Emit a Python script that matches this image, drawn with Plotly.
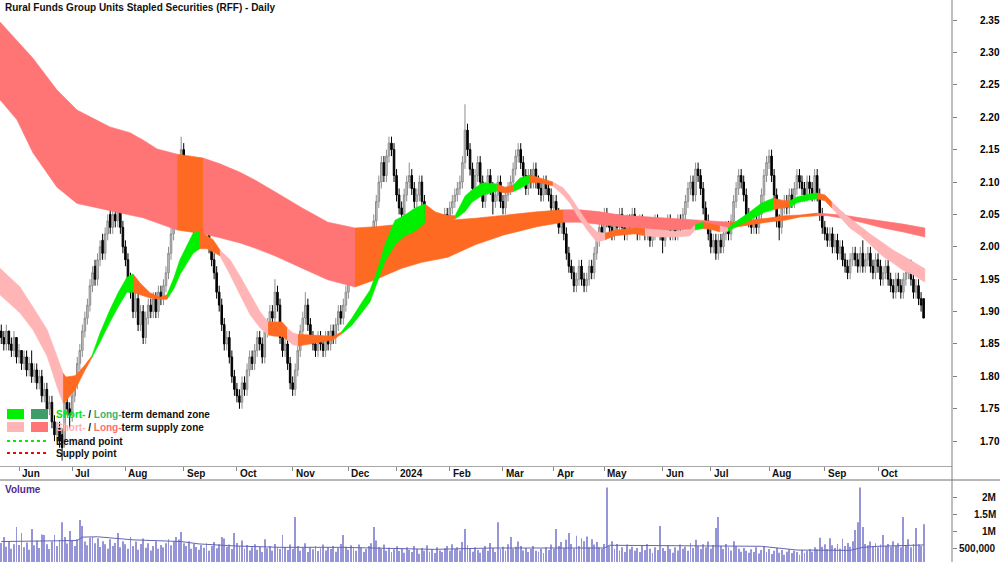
import plotly.graph_objects as go

TITLE = "Rural Funds Group Units Stapled Securities (RFF) - Daily"

# ---- x axis (trading-day index) ----
MONTH_IDX = [7, 28, 49, 72, 93, 115, 137, 156, 177, 198, 218, 238, 261, 280, 303, 325, 346]
MONTH_LABELS = ["Jun", "Jul", "Aug", "Sep", "Oct", "Nov", "Dec", "2024", "Feb", "Mar",
                "Apr", "May", "Jun", "Jul", "Aug", "Sep", "Oct"]

PRICE_TICKS = [1.70, 1.75, 1.80, 1.85, 1.90, 1.95, 2.00, 2.05, 2.10, 2.15, 2.20, 2.25, 2.30, 2.35]
VOL_TICKS = [500000, 1000000, 1500000, 2000000]
VOL_TICK_LABELS = ["500,000", "1M", "1.5M", "2M"]

# ---- daily prices (cents) ----
OPEN = [
    187, 186, 185, 187, 185, 184, 186, 183, 184, 182,
    183, 181, 182, 180, 181, 179, 180, 177, 178, 175,
    176, 173, 171, 172, 171, 170, 176, 175, 174, 177,
    179, 182, 184, 187, 189, 191, 194, 197, 195, 198,
    201, 199, 202, 205, 203, 205, 204, 206, 203, 200,
    198, 195, 193, 190, 192, 188, 190, 186, 189, 191,
    190, 192, 190, 193, 192, 194, 196, 199, 202, 205,
    210, 213, 215, 212, 210, 207, 205, 203, 204, 202,
    201, 203, 204, 200, 198, 196, 193, 191, 188, 185,
    186, 183, 180, 178, 177, 176, 179, 178, 181, 183,
    182, 184, 186, 185, 183, 187, 188, 190, 189, 193,
    191, 186, 184, 185, 182, 179, 178, 181, 184, 187,
    189, 191, 188, 186, 185, 184, 186, 185, 184, 186,
    185, 187, 186, 188, 190, 189, 191, 193, 196, 198,
    200, 199, 201, 200, 198, 197, 199, 201, 204, 207,
    210, 213, 211, 214, 216, 215, 211, 208, 206, 205,
    208, 210, 211, 209, 207, 208, 210, 207, 205, 204,
    202, 203, 201, 203, 204, 202, 205, 204, 206, 207,
    208, 209, 210, 213, 218, 215, 212, 209, 211, 213,
    210, 207, 209, 211, 209, 207, 208, 210, 207, 206,
    208, 209, 210, 212, 214, 215, 213, 211, 209, 211,
    210, 212, 210, 209, 208, 210, 209, 208, 206, 207,
    205, 203, 204, 202, 199, 197, 196, 194, 195, 197,
    195, 194, 195, 197, 196, 199, 201, 203, 202, 205,
    204, 203, 202, 204, 203, 205, 203, 202, 204, 203,
    205, 203, 202, 204, 203, 202, 203, 201, 202, 204,
    203, 202, 201, 203, 204, 202, 203, 202, 204, 203,
    205, 207, 209, 210, 208, 212, 211, 209, 206, 204,
    202, 200, 201, 199, 201, 200, 202, 203, 202, 204,
    207, 209, 211, 210, 208, 205, 204, 203, 204, 203,
    205, 208, 211, 213, 214, 211, 208, 204, 203, 206,
    207, 206, 208, 207, 209, 211, 210, 209, 208, 210,
    209, 208, 211, 208, 205, 203, 202, 201, 202, 200,
    201, 199, 200, 198, 197, 196, 198, 199, 198, 197,
    199, 197, 198, 199, 197, 196, 198, 197, 195, 196,
    197, 195, 194, 193, 195, 194, 193, 195, 196, 197,
    195, 193, 194, 192, 192,
]
HIGH = [
    188, 187, 188, 187, 186, 187, 186, 185, 184, 184,
    184, 183, 184, 182, 182, 181, 181, 179, 179, 177,
    177, 174, 173, 173, 172, 177, 178, 176, 178, 180,
    183, 185, 188, 190, 192, 195, 197, 198, 199, 201,
    202, 203, 205, 206, 206, 206, 207, 207, 204, 201,
    199, 196, 194, 193, 193, 191, 191, 190, 192, 192,
    193, 193, 194, 194, 195, 197, 200, 203, 206, 211,
    214, 217, 216, 213, 211, 208, 206, 205, 205, 203,
    204, 206, 205, 201, 199, 197, 194, 192, 189, 187,
    187, 184, 181, 179, 178, 180, 180, 182, 184, 184,
    185, 187, 187, 186, 188, 189, 191, 191, 195, 194,
    192, 187, 186, 186, 183, 180, 182, 185, 188, 190,
    193, 192, 189, 187, 186, 187, 187, 186, 187, 187,
    188, 188, 189, 191, 191, 192, 194, 197, 199, 201,
    201, 202, 202, 201, 199, 200, 202, 205, 208, 211,
    214, 214, 215, 217, 217, 216, 212, 209, 207, 209,
    211, 213, 212, 210, 209, 211, 211, 208, 206, 205,
    204, 204, 204, 205, 205, 206, 206, 207, 208, 209,
    210, 211, 214, 222, 219, 216, 213, 212, 214, 214,
    211, 210, 212, 212, 210, 209, 211, 211, 208, 209,
    210, 211, 213, 215, 216, 216, 214, 212, 212, 212,
    213, 213, 211, 210, 211, 211, 210, 209, 208, 208,
    206, 205, 205, 203, 200, 198, 197, 196, 198, 198,
    196, 196, 198, 198, 200, 202, 204, 204, 206, 206,
    205, 204, 205, 205, 206, 206, 204, 205, 205, 206,
    206, 204, 205, 205, 204, 204, 204, 203, 205, 205,
    204, 203, 204, 205, 205, 204, 204, 205, 205, 206,
    208, 210, 211, 211, 213, 213, 212, 210, 207, 205,
    203, 202, 202, 202, 202, 203, 204, 204, 205, 208,
    210, 212, 212, 211, 209, 206, 205, 205, 205, 206,
    209, 212, 214, 215, 215, 212, 209, 205, 207, 208,
    208, 209, 209, 210, 212, 212, 211, 210, 211, 211,
    210, 212, 212, 209, 206, 204, 203, 203, 203, 202,
    202, 201, 201, 199, 198, 199, 200, 200, 199, 200,
    201, 199, 200, 200, 198, 199, 199, 198, 197, 198,
    198, 196, 195, 196, 196, 195, 196, 197, 198, 198,
    196, 195, 195, 193, 192,
]
LOW = [
    185, 184, 184, 184, 183, 183, 182, 182, 181, 181,
    180, 180, 179, 179, 178, 178, 176, 176, 174, 174,
    172, 170, 170, 169, 167, 169, 174, 172, 173, 176,
    178, 181, 183, 186, 188, 190, 193, 194, 194, 197,
    198, 198, 201, 202, 202, 203, 203, 202, 199, 197,
    194, 192, 189, 189, 187, 187, 185, 185, 188, 189,
    189, 189, 189, 191, 191, 193, 195, 198, 201, 204,
    209, 212, 211, 209, 206, 204, 202, 202, 201, 200,
    200, 202, 199, 197, 195, 192, 190, 187, 184, 184,
    182, 179, 177, 176, 175, 175, 177, 177, 180, 181,
    181, 183, 184, 182, 182, 186, 187, 188, 188, 190,
    185, 183, 183, 181, 178, 177, 177, 180, 183, 186,
    188, 187, 185, 184, 183, 183, 184, 183, 183, 184,
    184, 185, 185, 187, 188, 188, 190, 192, 195, 197,
    198, 198, 199, 197, 196, 196, 198, 200, 203, 206,
    209, 210, 210, 213, 214, 210, 207, 205, 204, 204,
    207, 209, 208, 206, 206, 207, 206, 204, 203, 201,
    201, 200, 200, 202, 201, 201, 203, 203, 205, 206,
    207, 208, 209, 212, 214, 211, 208, 208, 210, 209,
    206, 206, 208, 208, 205, 206, 207, 206, 205, 205,
    207, 208, 209, 211, 213, 212, 210, 208, 208, 209,
    209, 209, 208, 207, 207, 208, 207, 205, 205, 204,
    202, 202, 201, 198, 196, 195, 193, 193, 194, 194,
    193, 193, 194, 195, 195, 198, 200, 201, 201, 203,
    202, 201, 201, 202, 202, 202, 201, 201, 202, 202,
    202, 201, 201, 202, 201, 201, 200, 200, 201, 202,
    201, 199, 200, 202, 201, 201, 201, 201, 202, 202,
    204, 206, 208, 207, 207, 210, 208, 205, 203, 201,
    199, 199, 198, 198, 199, 199, 201, 201, 201, 203,
    206, 208, 209, 207, 204, 203, 202, 202, 202, 202,
    204, 207, 210, 212, 210, 207, 203, 201, 202, 205,
    205, 205, 206, 206, 208, 209, 208, 207, 207, 208,
    207, 207, 207, 204, 202, 201, 200, 200, 199, 199,
    198, 198, 197, 196, 195, 195, 197, 197, 196, 196,
    196, 196, 197, 196, 195, 195, 196, 194, 194, 195,
    194, 193, 192, 192, 193, 192, 192, 194, 195, 194,
    192, 192, 191, 190, 189,
]
CLOSE = [
    186, 185, 187, 185, 184, 186, 183, 184, 182, 183,
    181, 182, 180, 181, 179, 180, 177, 178, 175, 176,
    173, 171, 172, 170, 169, 176, 175, 174, 177, 179,
    182, 184, 187, 189, 191, 194, 196, 195, 198, 200,
    199, 202, 204, 203, 205, 204, 206, 203, 200, 198,
    195, 193, 190, 192, 188, 190, 186, 189, 191, 190,
    192, 190, 193, 192, 194, 196, 199, 202, 205, 210,
    213, 215, 212, 210, 207, 205, 203, 204, 202, 201,
    203, 204, 200, 198, 196, 193, 191, 188, 185, 186,
    183, 180, 178, 177, 176, 179, 178, 181, 183, 182,
    184, 186, 185, 183, 187, 188, 190, 189, 193, 191,
    186, 184, 185, 182, 179, 178, 181, 184, 187, 189,
    191, 188, 186, 185, 184, 186, 185, 184, 186, 185,
    187, 186, 188, 190, 189, 191, 193, 196, 198, 200,
    199, 201, 200, 198, 197, 199, 201, 204, 207, 210,
    213, 211, 214, 216, 215, 211, 208, 206, 205, 208,
    210, 211, 209, 207, 208, 210, 207, 205, 204, 202,
    203, 201, 203, 204, 202, 205, 204, 206, 207, 208,
    209, 210, 213, 218, 215, 212, 209, 211, 213, 210,
    207, 209, 211, 209, 207, 208, 210, 207, 206, 208,
    209, 210, 212, 214, 215, 213, 211, 209, 211, 210,
    212, 210, 209, 208, 210, 209, 208, 206, 207, 205,
    203, 204, 202, 199, 197, 196, 194, 195, 197, 195,
    194, 195, 197, 196, 199, 201, 203, 202, 205, 204,
    203, 202, 204, 203, 205, 203, 202, 204, 203, 205,
    203, 202, 204, 203, 202, 203, 201, 202, 204, 203,
    202, 201, 203, 204, 202, 203, 202, 204, 203, 205,
    207, 209, 210, 208, 212, 211, 209, 206, 204, 202,
    200, 201, 199, 201, 200, 202, 203, 202, 204, 207,
    209, 211, 210, 208, 205, 204, 203, 204, 203, 205,
    208, 211, 213, 214, 211, 208, 204, 203, 206, 207,
    206, 208, 207, 209, 211, 210, 209, 208, 210, 209,
    208, 211, 208, 205, 203, 202, 201, 202, 200, 201,
    199, 200, 198, 197, 196, 198, 199, 198, 197, 199,
    197, 198, 199, 197, 196, 198, 197, 195, 196, 197,
    195, 194, 193, 195, 194, 193, 195, 196, 197, 195,
    193, 194, 192, 191, 189,
]

# ---- daily volume (thousands of units) ----
VOLUME_K = [
    650, 820, 540, 700, 480, 610, 1120, 590, 940, 520,
    660, 450, 1060, 580, 720, 500, 900, 880, 610, 470,
    690, 880, 560, 740, 1260, 820, 630, 1000, 720, 560,
    760, 1320, 1150, 690, 580, 800, 820, 640, 790, 530,
    700, 610, 480, 760, 560, 650, 940, 520, 700, 610,
    480, 820, 560, 690, 450, 620, 780, 510, 640, 430,
    560, 700, 480, 590, 520, 640, 760, 580, 690, 820,
    750, 970, 640, 560, 700, 480, 620, 530, 450, 590,
    510, 640, 420, 560, 680, 490, 610, 820, 780, 540,
    600, 470, 940, 650, 560, 720, 480, 590, 430, 520,
    610, 450, 540, 380, 760, 490, 560, 420, 620, 510,
    470, 880, 530, 440, 600, 480, 1410, 560, 420, 500,
    640, 380, 520, 460, 560, 410, 490, 600, 430, 520,
    470, 560, 390, 510, 620, 880, 540, 450, 580, 490,
    420, 600, 510, 380, 470, 560, 640, 1120, 720, 530,
    480, 600, 420, 510, 380, 460, 550, 410, 490, 360,
    520, 440, 380, 560, 470, 330, 500, 420, 580, 390,
    460, 350, 520, 430, 380, 490, 560, 420, 610, 470,
    520, 430, 680, 1060, 580, 470, 390, 520, 440, 360,
    480, 560, 420, 650, 500, 380, 1260, 470, 540, 420,
    610, 820, 480, 540, 690, 560, 430, 500, 380, 470,
    560, 420, 390, 480, 350, 520, 440, 600, 480, 1060,
    560, 680, 500, 740, 940, 620, 480, 860, 560, 790,
    700, 840, 520, 760, 600, 680, 520, 480, 620, 2280,
    560, 700, 480, 620, 430, 520, 380, 600, 460, 540,
    420, 500, 380, 560, 440, 620, 480, 360, 520, 440,
    1150, 500, 410, 580, 470, 360, 520, 430, 600, 480,
    540, 420, 650, 500, 740, 560, 470, 610, 520, 690,
    480, 590, 1090, 1410, 560, 470, 620, 520, 430, 700,
    560, 480, 390, 500, 420, 360, 460, 380, 520, 340,
    440, 560, 380, 470, 320, 420, 510, 360, 440, 300,
    390, 460, 350, 420, 380, 300, 440, 360, 410, 470,
    390, 520, 460, 800, 540, 610, 470, 790, 580, 500,
    620, 480, 770, 560, 650, 540, 700, 1030, 1260, 2280,
    1120, 620, 580, 690, 560, 640, 520, 600, 880, 560,
    620, 540, 700, 560, 640, 520, 1410, 580, 760, 520,
    620, 1090, 600, 560, 1200,
]
VOL_MA_IDX = [0, 30, 32, 38, 52, 71, 78, 92, 110, 134, 171, 194, 238, 240, 300, 314, 335, 338, 340, 346, 364]
VOL_MA_K = [690, 720, 820, 830, 740, 690, 620, 560, 520, 520, 460, 500, 500, 580, 550, 440, 430, 480, 520, 550, 590]

# ---- short-term zone band (read at sampled bars) ----
SHORT_IDX = [-0.5, 7.4, 12.5, 18.1, 22.0, 24.4, 25.5, 29.1, 32.7, 35.8, 39.0, 42.9, 46.1, 49.6,
             52.0, 54.8, 58.7, 62.6, 65.4, 68.2, 70.5, 73.3, 75.7, 78.4, 81.2, 83.6, 86.3, 90.3,
             94.2, 98.2, 102.1, 105.3, 108.0, 110.8, 112.8, 115.1, 117.1, 121.8, 125.8, 130.9,
             134.1, 138.4, 142.4, 145.5, 148.7, 151.4, 155.4, 159.3, 163.3, 167.2, 171.2, 175.1,
             179.1, 183.0, 185.8, 190.1, 195.6, 198.8, 202.0, 204.7, 208.7, 212.6, 217.7, 221.7,
             224.5, 227.2, 231.2, 235.1, 238.3, 242.2, 250.1, 254.0, 260.0, 265.9, 271.8, 273.8,
             276.9, 280.9, 283.6, 286.8, 290.7, 295.5, 300.2, 304.6, 308.1, 311.3, 314.0, 318.4,
             321.9, 325.1, 327.8, 331.0, 334.9, 338.9, 342.8, 348.0, 351.9, 355.9, 359.8, 363.8, 364.5]
SHORT_HI = [1.967, 1.938, 1.907, 1.872, 1.831, 1.805, 1.799, 1.801, 1.816, 1.832, 1.867, 1.903, 1.929,
            1.953, 1.958, 1.944, 1.929, 1.922, 1.926, 1.953, 1.980, 2.003, 2.021, 2.024, 2.017, 2.011,
            1.995, 1.980, 1.955, 1.926, 1.900, 1.884, 1.884, 1.884, 1.875, 1.867, 1.865, 1.864, 1.862,
            1.862, 1.868, 1.890, 1.915, 1.933, 1.967, 2.003, 2.041, 2.049, 2.060, 2.066, 2.054, 2.049,
            2.048, 2.078, 2.088, 2.099, 2.097, 2.092, 2.095, 2.106, 2.111, 2.106, 2.100, 2.091, 2.078,
            2.061, 2.038, 2.023, 2.021, 2.026, 2.029, 2.028, 2.026, 2.024, 2.026, 2.034, 2.038, 2.035,
            2.032, 2.029, 2.041, 2.054, 2.068, 2.075, 2.072, 2.071, 2.077, 2.081, 2.083, 2.080, 2.069,
            2.057, 2.044, 2.032, 2.020, 2.006, 1.995, 1.986, 1.977, 1.967, 1.966]
SHORT_LO = [1.926, 1.898, 1.872, 1.831, 1.784, 1.759, 1.762, 1.779, 1.807, 1.829, 1.853, 1.884, 1.907,
            1.930, 1.930, 1.926, 1.921, 1.919, 1.919, 1.936, 1.957, 1.975, 1.990, 1.997, 1.997, 1.992,
            1.986, 1.957, 1.926, 1.895, 1.875, 1.864, 1.862, 1.862, 1.856, 1.849, 1.847, 1.850, 1.853,
            1.856, 1.865, 1.879, 1.899, 1.915, 1.949, 1.977, 2.003, 2.017, 2.024, 2.037, 2.037, 2.038,
            2.043, 2.054, 2.069, 2.080, 2.086, 2.083, 2.085, 2.090, 2.099, 2.099, 2.094, 2.080, 2.067,
            2.049, 2.026, 2.007, 2.011, 2.017, 2.020, 2.017, 2.015, 2.015, 2.017, 2.026, 2.029, 2.026,
            2.023, 2.024, 2.032, 2.041, 2.052, 2.057, 2.060, 2.061, 2.068, 2.072, 2.074, 2.071, 2.060,
            2.046, 2.029, 2.018, 2.004, 1.985, 1.975, 1.964, 1.957, 1.947, 1.946]
# P = short-term supply, O = neutral, G = short-term demand (state from that point on)
SHORT_ZONE = list("PPPPPOOOOGGGGGOOOOGGGGGOOOPPPPPOOOPPOOOOGGGGGGGGGOOOGGGGOOGGOOPPPPPPOOOPPPPGOOPGGGGOOGGGOOPPPPPPPPPPE")

# ---- long-term zone band ----
LONG_IDX = [-0.5, 6.2, 12.5, 22.0, 29.9, 42.9, 50.8, 55.9, 61.5, 69.4, 74.5, 79.6, 86.3, 94.2, 100.1,
            108.0, 118.7, 128.9, 139.6, 147.5, 158.1, 166.0, 176.3, 187.0, 198.0, 211.4, 221.7, 228.4,
            236.3, 244.2, 256.0, 263.9, 271.8, 279.7, 287.6, 295.5, 302.2, 309.3, 315.2, 321.9, 325.9,
            332.2, 340.1, 348.0, 355.9, 364.5]
LONG_HI = [2.347, 2.319, 2.291, 2.242, 2.211, 2.185, 2.176, 2.165, 2.151, 2.143, 2.140, 2.137, 2.128,
           2.115, 2.103, 2.085, 2.060, 2.038, 2.029, 2.031, 2.035, 2.038, 2.041, 2.044, 2.049, 2.054,
           2.057, 2.057, 2.054, 2.049, 2.046, 2.044, 2.043, 2.041, 2.038, 2.041, 2.044, 2.048, 2.049,
           2.052, 2.051, 2.049, 2.044, 2.040, 2.035, 2.029]
LONG_LO = [2.227, 2.196, 2.145, 2.092, 2.067, 2.056, 2.049, 2.045, 2.037, 2.026, 2.023, 2.020, 2.014,
           2.006, 1.998, 1.986, 1.967, 1.949, 1.938, 1.949, 1.967, 1.976, 1.984, 2.003, 2.018, 2.031,
           2.038, 2.038, 2.035, 2.031, 2.026, 2.026, 2.026, 2.028, 2.029, 2.034, 2.038, 2.041, 2.046,
           2.048, 2.048, 2.044, 2.037, 2.029, 2.023, 2.015]
# S = long-term supply, O = neutral
LONG_ZONE = list("SSSSSSSSSOOSSSSSSSOOOOOOOOSSSSSSSSOOOOOSSSSSSE")

ZONE_COLORS = {
    "P": "#ffb5b5",   # short-term supply
    "G": "#00f000",   # short-term demand
    "O": "#ff6a22",   # neutral
    "S": "#ff7474",   # long-term supply
    "D": "#3d9e6a",   # long-term demand
}

W, H = 1000, 562
PLOT_W = 952
FONT = "Liberation Sans, Arial, sans-serif"


def px_x(p):
    return p / PLOT_W


def px_y(p):
    return 1 - p / H


def band_traces(xs, his, los, zones):
    out = []
    n = min(len(xs), len(his), len(los), len(zones))
    start = 0
    while start < n - 1:
        z = zones[start]
        end = start + 1
        while end < n - 1 and zones[end] == z:
            end += 1
        sx = list(xs[start:end + 1])
        sh = list(his[start:end + 1])
        sl = list(los[start:end + 1])
        col = ZONE_COLORS.get(z, "#ff6a22")
        out.append(go.Scatter(
            x=sx + sx[::-1], y=sh + sl[::-1], mode="lines", fill="toself",
            fillcolor=col, line=dict(color=col, width=0.6),
            hoverinfo="skip", showlegend=False, xaxis="x", yaxis="y"))
        start = end
    return out


n = min(len(OPEN), len(HIGH), len(LOW), len(CLOSE))
xs = list(range(n))

fig = go.Figure()
for t in band_traces(LONG_IDX, LONG_HI, LONG_LO, LONG_ZONE):
    fig.add_trace(t)
for t in band_traces(SHORT_IDX, SHORT_HI, SHORT_LO, SHORT_ZONE):
    fig.add_trace(t)

fig.add_trace(go.Candlestick(
    x=xs,
    open=[v / 100 for v in OPEN[:n]], high=[v / 100 for v in HIGH[:n]],
    low=[v / 100 for v in LOW[:n]], close=[v / 100 for v in CLOSE[:n]],
    increasing=dict(line=dict(color="#8e8e8e", width=1), fillcolor="#cacaca"),
    decreasing=dict(line=dict(color="#000000", width=1), fillcolor="#000000"),
    whiskerwidth=0, showlegend=False, xaxis="x", yaxis="y"))

nv = len(VOLUME_K)
fig.add_trace(go.Bar(
    x=list(range(nv)), y=[v * 1000 for v in VOLUME_K], width=0.36,
    marker=dict(color="#9595d8", line=dict(width=0)),
    showlegend=False, xaxis="x2", yaxis="y2"))
fig.add_trace(go.Scatter(
    x=VOL_MA_IDX, y=[v * 1000 for v in VOL_MA_K], mode="lines",
    line=dict(color="#6464b4", width=1), showlegend=False, xaxis="x2", yaxis="y2"))

XR = [-0.5, 375.2]
fig.update_layout(
    width=W, height=H, autosize=False,
    margin=dict(l=0, r=W - PLOT_W, t=0, b=0),
    paper_bgcolor="white", plot_bgcolor="white",
    font=dict(family=FONT, size=10, color="black"),
    boxgap=0.12,
    xaxis=dict(domain=[0, 1], range=XR, anchor="y", showgrid=False, zeroline=False,
               rangeslider=dict(visible=False), tickmode="array", tickvals=MONTH_IDX,
               ticktext=[""] * len(MONTH_IDX), ticks="outside", ticklen=4, tickcolor="#888888",
               showline=True, linecolor="#a8a8a8", linewidth=1),
    yaxis=dict(domain=[1 - 466 / H, 1], range=[1.6617, 2.3809], side="right", anchor="x",
               showgrid=False, zeroline=False, tickmode="array", tickvals=PRICE_TICKS,
               ticktext=["<b>%.2f</b>" % v for v in PRICE_TICKS], ticks="outside", ticklen=4,
               tickcolor="#808080", ticklabelstandoff=21,
               tickfont=dict(family=FONT, size=10, color="black"), showline=False),
    xaxis2=dict(domain=[0, 1], range=XR, anchor="y2", matches="x", showgrid=False,
                zeroline=False, showticklabels=False, ticks=""),
    yaxis2=dict(domain=[0, 82 / H], range=[88235, 2500000], side="right", anchor="x2",
                showgrid=False, zeroline=False, tickmode="array", tickvals=VOL_TICKS,
                showticklabels=False, ticks="outside", ticklen=4, tickcolor="#808080",
                showline=False),
)

shapes = [
    dict(type="line", xref="paper", yref="paper", x0=1, x1=1, y0=0, y1=1,
         line=dict(color="#808080", width=1)),
    dict(type="line", xref="paper", yref="paper", x0=0, x1=W / PLOT_W, y0=px_y(480), y1=px_y(480),
         line=dict(color="#707070", width=1)),
    # legend swatches
    dict(type="rect", xref="paper", yref="paper", x0=px_x(7), x1=px_x(24), y0=px_y(419), y1=px_y(409),
         fillcolor=ZONE_COLORS["G"], line=dict(width=0), layer="above"),
    dict(type="rect", xref="paper", yref="paper", x0=px_x(31), x1=px_x(48), y0=px_y(419), y1=px_y(409),
         fillcolor=ZONE_COLORS["D"], line=dict(width=0), layer="above"),
    dict(type="rect", xref="paper", yref="paper", x0=px_x(7), x1=px_x(24), y0=px_y(432), y1=px_y(422),
         fillcolor=ZONE_COLORS["P"], line=dict(width=0), layer="above"),
    dict(type="rect", xref="paper", yref="paper", x0=px_x(31), x1=px_x(48), y0=px_y(432), y1=px_y(422),
         fillcolor=ZONE_COLORS["S"], line=dict(width=0), layer="above"),
    dict(type="line", xref="paper", yref="paper", x0=px_x(7), x1=px_x(47), y0=px_y(441), y1=px_y(441),
         line=dict(color="#00ee00", width=2, dash="dot"), layer="above"),
    dict(type="line", xref="paper", yref="paper", x0=px_x(7), x1=px_x(47), y0=px_y(453), y1=px_y(453),
         line=dict(color="#ff0000", width=2, dash="dot"), layer="above"),
]
fig.update_layout(shapes=shapes)

ann = [
    dict(text="<b>" + TITLE + "</b>", xref="paper", yref="paper", x=px_x(3), y=px_y(8),
         xanchor="left", yanchor="middle", showarrow=False, font=dict(size=10, color="#111111")),
    dict(text="<b>Volume</b>", xref="paper", yref="paper", x=px_x(3), y=px_y(489),
         xanchor="left", yanchor="middle", showarrow=False, font=dict(size=10, color="#4f2c8c")),
    dict(text="<b><span style='color:#00e600'>Short-</span> / <span style='color:#3cb371'>Long-</span>term demand zone</b>",
         xref="paper", yref="paper", x=px_x(54), y=px_y(414), xanchor="left", yanchor="middle",
         showarrow=False, font=dict(size=10, color="#111111")),
    dict(text="<b><span style='color:#ffb0b0'>Short-</span> / <span style='color:#ff6e6e'>Long-</span>term supply zone</b>",
         xref="paper", yref="paper", x=px_x(54), y=px_y(427), xanchor="left", yanchor="middle",
         showarrow=False, font=dict(size=10, color="#111111")),
    dict(text="<b>Demand point</b>", xref="paper", yref="paper", x=px_x(54), y=px_y(441),
         xanchor="left", yanchor="middle", showarrow=False, font=dict(size=10, color="#111111")),
    dict(text="<b>Supply point</b>", xref="paper", yref="paper", x=px_x(54), y=px_y(453),
         xanchor="left", yanchor="middle", showarrow=False, font=dict(size=10, color="#111111")),
]
for i, lab in zip(MONTH_IDX, MONTH_LABELS):
    ann.append(dict(text="<b>" + lab + "</b>", xref="x", yref="paper", x=i, y=px_y(473),
                    xanchor="left", yanchor="middle", xshift=1, showarrow=False,
                    font=dict(size=10, color="#111111")))
for v, lab in zip(VOL_TICKS, VOL_TICK_LABELS):
    ann.append(dict(text="<b>" + lab + "</b>", xref="paper", yref="y2", x=998 / PLOT_W, y=v,
                    xanchor="right", yanchor="middle", showarrow=False,
                    font=dict(size=10, color="#111111")))
fig.update_layout(annotations=ann)

fig.write_html("out.html")
